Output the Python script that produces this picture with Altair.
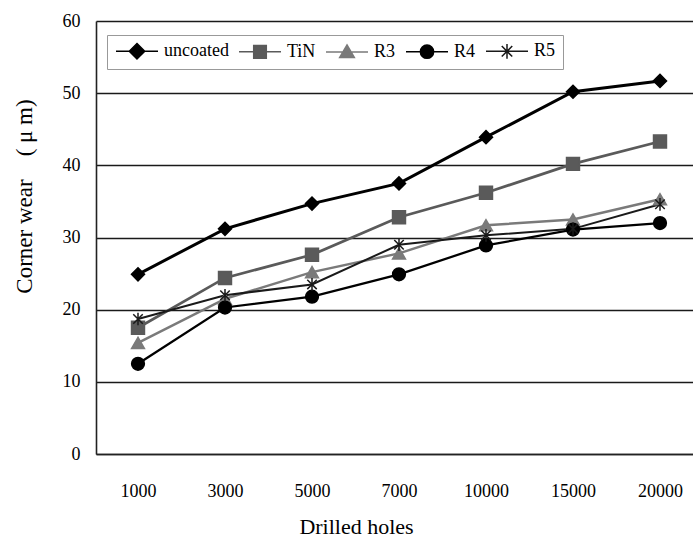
import altair as alt
import pandas as pd

holes = ["1000", "3000", "5000", "7000", "10000", "15000", "20000"]
series = ["uncoated", "TiN", "R3", "R4", "R5"]
uncoated = [24.9, 31.2, 34.7, 37.5, 43.9, 50.2, 51.7]
tin = [17.5, 24.4, 27.6, 32.8, 36.2, 40.2, 43.3]
r3 = [15.4, 21.5, 25.2, 27.8, 31.7, 32.5, 35.3]
r4 = [12.5, 20.3, 21.8, 24.9, 28.9, 31.1, 32.0]
r5 = [18.7, 22.0, 23.5, 29.0, 30.3, 31.2, 34.6]
yticks = [0, 10, 20, 30, 40, 50, 60]

values = {"uncoated": uncoated, "TiN": tin, "R3": r3, "R4": r4, "R5": r5}
rows = []
for s in series:
    for i, (h, v) in enumerate(zip(holes, values[s])):
        rows.append({"idx": i, "holes": h, "wear": v, "series": s, "key": s})
df = pd.DataFrame(rows)

line_colors = ["#000000", "#5a5a5a", "#7a7a7a", "#000000", "#1a1a1a"]
line_widths = [3, 2, 2, 3, 2]
star = "M-0.75,-0.75L0.75,0.75M-0.75,0.75L0.75,-0.75M0,-1V1"
point_shapes = ["diamond", "square", "triangle-up", "circle", star]
point_sizes = [170, 160, 120, 220, 180]

# legend symbols: a short line with the marker in its middle
legend_shapes = [
    "M-1,0H5M2,-1.1L3.1,0L2,1.1L0.9,0Z",
    "M-1,0H5M1.1,-0.9H2.9V0.9H1.1Z",
    "M-1,0H5M2,-1.0L3.05,0.8H0.95Z",
    "M-1,0H5M1.05,0A0.95,0.95,0,1,0,2.95,0A0.95,0.95,0,1,0,1.05,0Z",
    "M-1,0H5M1.25,-0.75L2.75,0.75M1.25,0.75L2.75,-0.75M2,-1.05V1.05",
]

label_expr = "[" + ",".join("'%s'" % h for h in holes) + "][datum.value]"

xenc = alt.X("idx:Q",
             scale=alt.Scale(domain=[-0.4828, 6.3793], nice=False, zero=False),
             axis=alt.Axis(title="Drilled holes", values=list(range(len(holes))),
                           labelExpr=label_expr, labelAngle=0, ticks=False,
                           domain=True, grid=False, labelPadding=28,
                           titleX=260, titleY=72, titleAnchor="middle",
                           titleBaseline="middle", titleFontSize=22))
yenc = alt.Y("wear:Q", scale=alt.Scale(domain=[0, 60], nice=False),
             axis=alt.Axis(title="Corner wear\u3000( \u03bc m)", values=yticks,
                           ticks=False, labelPadding=16, grid=True,
                           titleX=-72, titleY=175, titleAngle=-90,
                           titleBaseline="middle", titleAlign="center",
                           titleFontSize=23))

base = alt.Chart(df)

lines = base.mark_line().encode(
    x=xenc, y=yenc,
    color=alt.Color("series:N", scale=alt.Scale(domain=series, range=line_colors), legend=None),
    strokeWidth=alt.StrokeWidth("series:N", scale=alt.Scale(domain=series, range=line_widths), legend=None),
    detail="series:N",
)

points = base.mark_point(filled=True, opacity=1, strokeWidth=1.5).encode(
    x=xenc, y=yenc,
    fill=alt.Fill("series:N", scale=alt.Scale(domain=series, range=line_colors), legend=None),
    stroke=alt.Stroke("series:N", scale=alt.Scale(domain=series, range=line_colors), legend=None),
    shape=alt.Shape("series:N", scale=alt.Scale(domain=series, range=point_shapes), legend=None),
    size=alt.Size("series:O", scale=alt.Scale(domain=series, range=point_sizes), legend=None),
)

leg = alt.Legend(orient="none", legendX=11, legendY=14, direction="horizontal",
                 columns=5, title=None, labelFont="Liberation Serif",
                 labelFontSize=18, labelColor="black", symbolSize=196,
                 strokeColor="#999999", fillColor="white",
                 padding=7, labelOffset=32, columnPadding=7)

legend_layer = base.mark_point(filled=True, opacity=1, strokeWidth=2).encode(
    x=xenc, y=yenc,
    fill=alt.Fill("key:N", scale=alt.Scale(domain=series, range=line_colors), legend=leg),
    stroke=alt.Stroke("key:N", scale=alt.Scale(domain=series, range=line_colors), legend=leg),
    shape=alt.Shape("key:N", scale=alt.Scale(domain=series, range=legend_shapes), legend=leg),
).transform_filter("false")

chart = alt.layer(lines, points, legend_layer).resolve_scale(
    shape="independent", fill="independent", stroke="independent"
).properties(
    width=597, height=433,
    autosize=alt.AutoSizeParams(type="none"),
    padding={"left": 96, "top": 21, "right": 0, "bottom": 89},
    background="white",
).configure_view(stroke=None).configure_axis(
    labelFont="Liberation Serif", titleFont="Liberation Serif",
    labelFontSize=18, labelColor="black", titleColor="black",
    titleFontWeight="normal", gridColor="#1a1a1a", gridWidth=1.4,
    domainColor="#222222", domainWidth=1.6,
)

chart.save("out.html", embed_options={"renderer": "svg", "actions": False})
